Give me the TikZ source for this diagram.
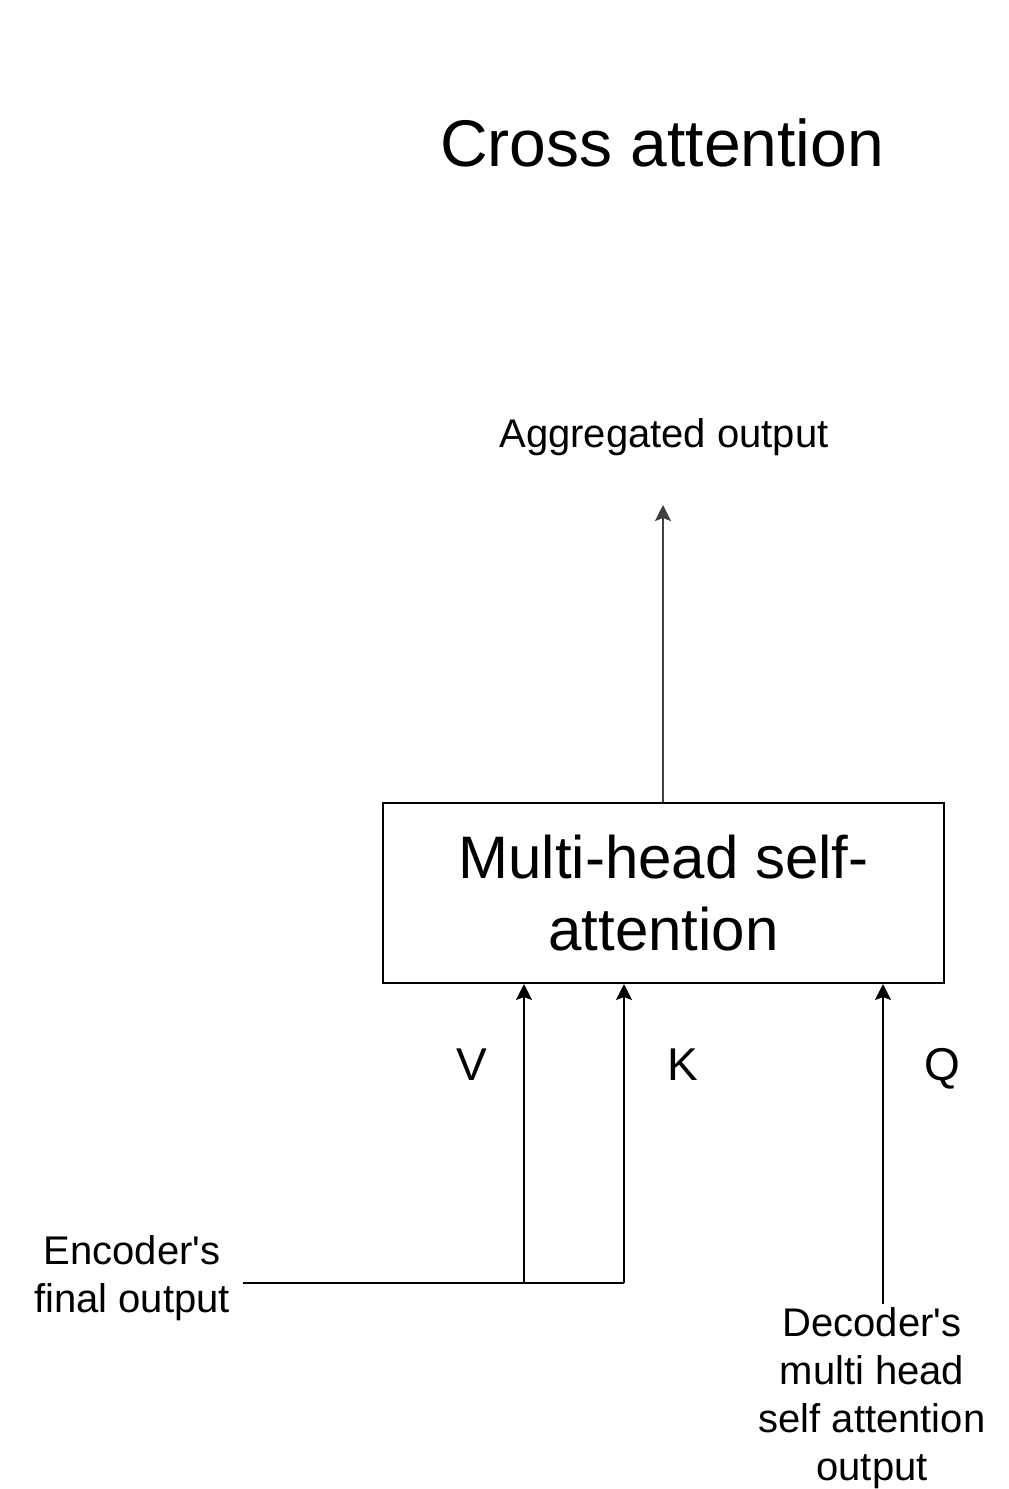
\documentclass[tikz,border=0pt]{standalone}
\usepackage{fontspec}
\setmainfont{Liberation Sans}
\usetikzlibrary{arrows.meta}
\begin{document}
\begin{tikzpicture}[x=1pt,y=-1pt,
  lbl/.style={inner sep=0pt, align=center, text=black},
  letter/.style={lbl, anchor=base, font=\fontsize{46}{55}\selectfont},
  conn/.style={line width=2pt, draw=black},
  arr/.style={conn, -{Stealth[length=16pt,width=16pt,inset=3pt]}},
  boxst/.style={draw=black, line width=2pt, minimum width=561pt, minimum height=180pt, inner sep=0pt, align=center}]
\useasboundingbox (0,0) rectangle (1009,1489);
\node[lbl, font=\fontsize{66}{79}\selectfont] (title) at (662,143) {Cross attention};
\node[lbl, font=\fontsize{40}{48}\selectfont] (agg) at (664,437) {Aggregated output};
\node[boxst, font=\fontsize{60}{72}\selectfont] (box) at (663.5,893) {Multi-head self-\\attention};
\node[letter] (v) at (472,1080) {V};
\node[letter] (k) at (683,1080) {K};
\node[letter] (q) at (942,1080) {Q};
\node[lbl, font=\fontsize{40}{48}\selectfont] (enc) at (132,1278) {Encoder\textquotesingle s\\final output};
\node[lbl, font=\fontsize{40}{48}\selectfont] (dec) at (872,1398) {Decoder\textquotesingle s\\multi head\\self attention\\output};
\coordinate (e0) at (243,1283);
\coordinate (j1) at (524,1283);
\coordinate (j2) at (624,1283);
\coordinate (q0) at (883,1304);
\coordinate (a1) at (663,505);
\draw[conn] (e0) -- (j1) -- (j2);
\draw[arr] (j1) -- (box.south -| j1);
\draw[arr] (j2) -- (box.south -| j2);
\draw[arr] (q0) -- (box.south -| q0);
\draw[arr, draw=black!75, fill=black] (box.north -| a1) -- (a1);
\end{tikzpicture}
\end{document}
